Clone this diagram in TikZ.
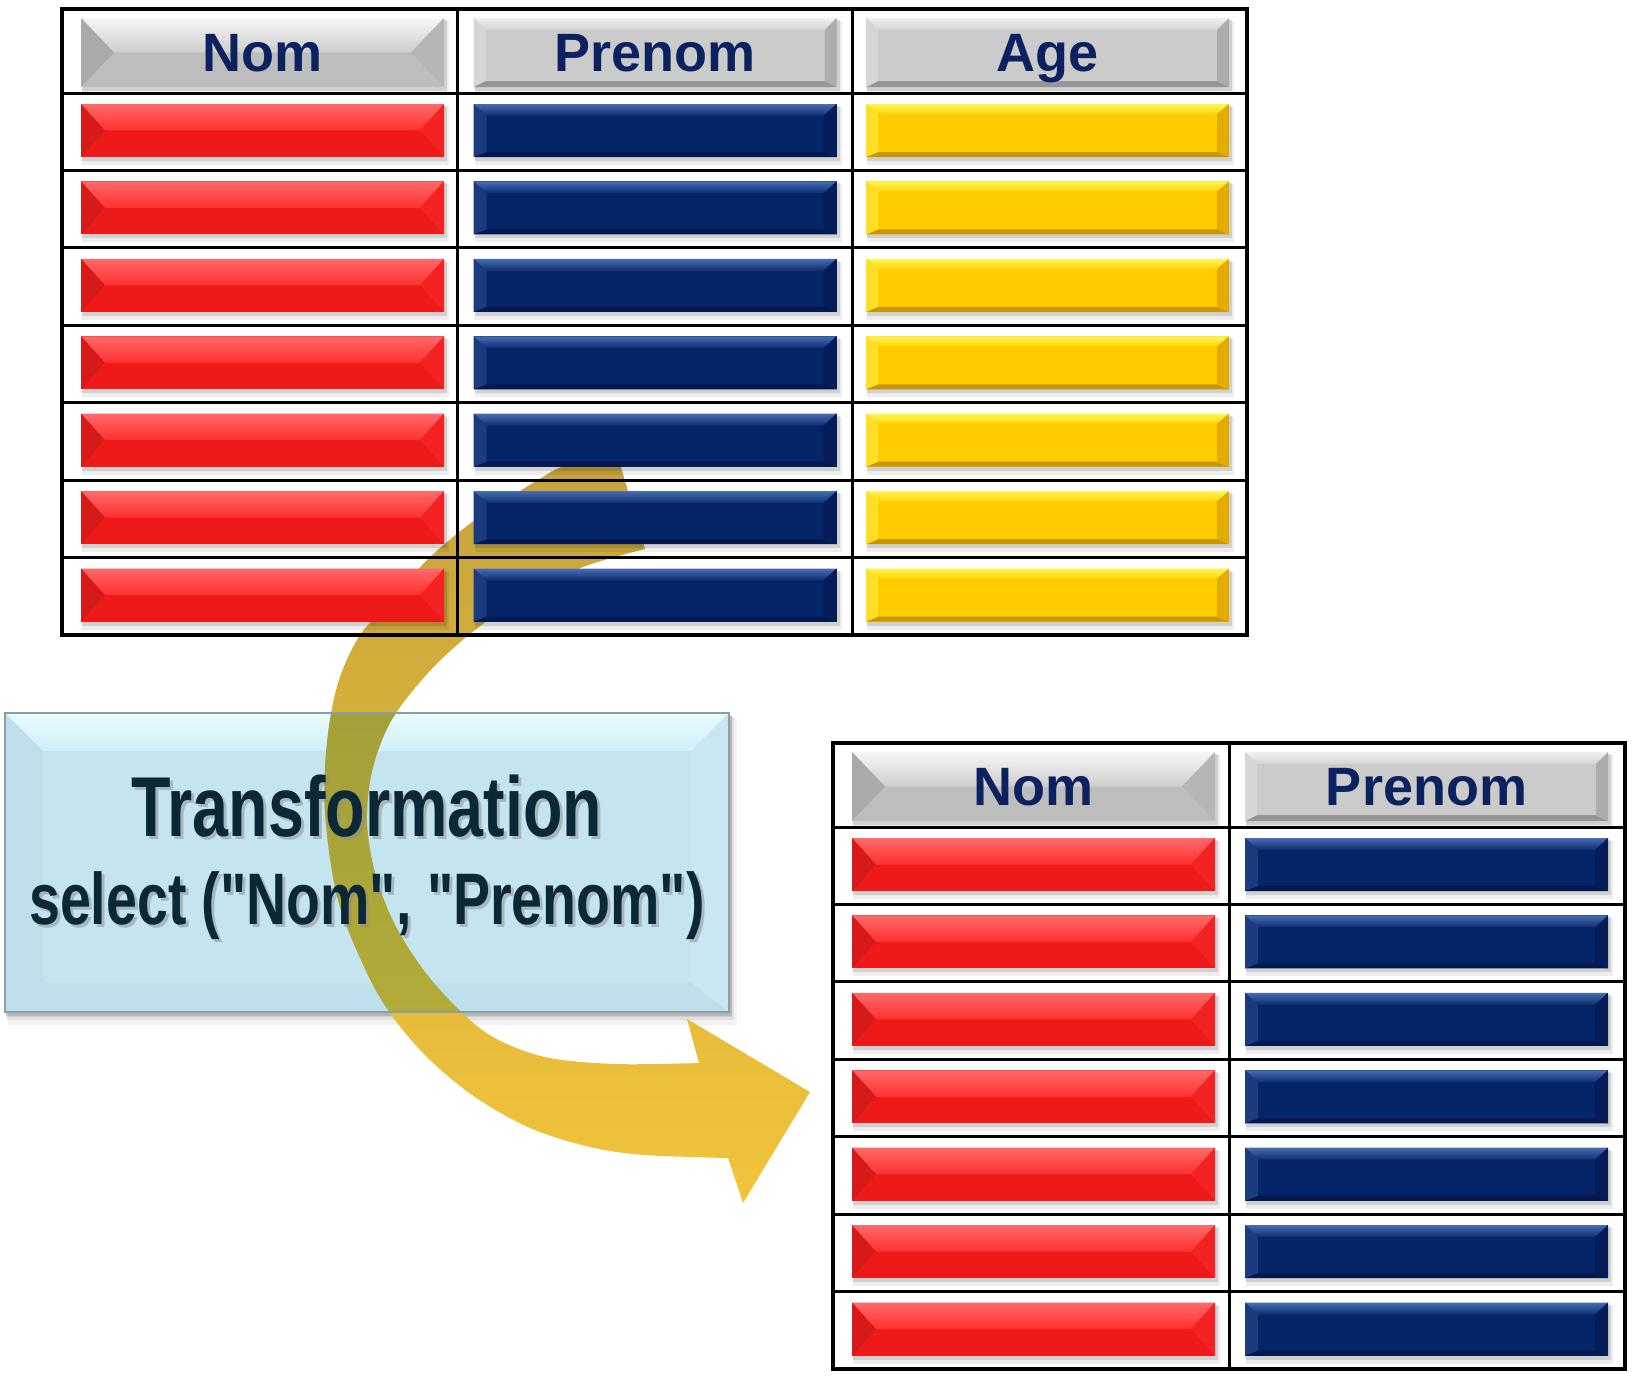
\documentclass[tikz,border=0pt]{standalone}
\usepackage{fontspec}
\setmainfont{Liberation Sans}
\newfontfamily\narrowfont[FakeStretch=0.76]{Liberation Sans}
\definecolor{hdrtext}{RGB}{12,34,96}
\definecolor{boxtext}{RGB}{10,40,54}
% red pyramid bevel
\definecolor{redTA}{RGB}{255,105,105}\definecolor{redTB}{RGB}{255,48,48}
\definecolor{redBo}{RGB}{238,26,26}\definecolor{redL}{RGB}{214,26,26}\definecolor{redR}{RGB}{244,34,34}
% grey pyramid
\definecolor{gpyTA}{RGB}{246,246,246}\definecolor{gpyTB}{RGB}{206,206,206}
\definecolor{gpyBo}{RGB}{189,189,189}\definecolor{gpyL}{RGB}{170,170,170}\definecolor{gpyR}{RGB}{182,182,182}
% grey frame
\definecolor{gfrM}{RGB}{203,203,203}\definecolor{gfrTA}{RGB}{240,240,240}\definecolor{gfrTB}{RGB}{212,212,212}
\definecolor{gfrBo}{RGB}{150,150,150}\definecolor{gfrL}{RGB}{214,214,214}\definecolor{gfrR}{RGB}{172,172,172}
% blue frame
\definecolor{bluM}{RGB}{6,36,104}\definecolor{bluTA}{RGB}{72,108,178}\definecolor{bluTB}{RGB}{12,44,112}
\definecolor{bluBo}{RGB}{3,24,78}\definecolor{bluL}{RGB}{28,58,128}\definecolor{bluR}{RGB}{4,28,88}
% yellow frame
\definecolor{yelM}{RGB}{255,204,0}\definecolor{yelTA}{RGB}{255,245,80}\definecolor{yelTB}{RGB}{255,214,10}
\definecolor{yelBo}{RGB}{200,150,0}\definecolor{yelL}{RGB}{255,222,40}\definecolor{yelR}{RGB}{228,172,0}
% box frame
\definecolor{bxM}{RGB}{196,228,239}\definecolor{bxTA}{RGB}{232,252,255}\definecolor{bxTB}{RGB}{206,239,249}
\definecolor{bxBo}{RGB}{190,224,236}\definecolor{bxL}{RGB}{190,223,235}\definecolor{bxR}{RGB}{200,231,242}
\definecolor{bxline}{RGB}{140,157,164}
% arrow
\definecolor{goldA}{RGB}{198,164,60}\definecolor{goldB}{RGB}{241,196,58}
\definecolor{oliveA}{RGB}{152,150,58}\definecolor{oliveB}{RGB}{186,178,56}

\newcommand\barshadow[4]{%
  \fill[black,opacity=0.07] ({#1+1},{#2+3}) rectangle ({#3+5},{#4+8});
  \fill[black,opacity=0.12] ({#1+1},{#2+2}) rectangle ({#3+3},{#4+4});}
\newcommand\pyrbar[6]{% x1 y1 x2 y2 d prefix
  \barshadow{#1}{#2}{#3}{#4}
  \fill[#6Bo] (#1,#2) rectangle (#3,#4);
  \shade[top color=#6TA,bottom color=#6TB] (#1,#2) -- (#3,#2) -- ({#3-#5},{(#2+#4)/2}) -- ({#1+#5},{(#2+#4)/2}) -- cycle;
  \fill[#6L] (#1,#2) -- ({#1+#5},{(#2+#4)/2}) -- (#1,#4) -- cycle;
  \fill[#6R] (#3,#2) -- ({#3-#5},{(#2+#4)/2}) -- (#3,#4) -- cycle;}
\newcommand\frbar[8]{% x1 y1 x2 y2 d t b prefix
  \barshadow{#1}{#2}{#3}{#4}
  \fill[#8M] (#1,#2) rectangle (#3,#4);
  \shade[top color=#8TA,bottom color=#8TB] (#1,#2) -- (#3,#2) -- ({#3-#5},{#2+#6}) -- ({#1+#5},{#2+#6}) -- cycle;
  \fill[#8Bo] (#1,#4) -- (#3,#4) -- ({#3-#5},{#4-#7}) -- ({#1+#5},{#4-#7}) -- cycle;
  \fill[#8L] (#1,#2) -- ({#1+#5},{#2+#6}) -- ({#1+#5},{#4-#7}) -- (#1,#4) -- cycle;
  \fill[#8R] (#3,#2) -- ({#3-#5},{#2+#6}) -- ({#3-#5},{#4-#7}) -- (#3,#4) -- cycle;}

\tikzset{
  hdr/.style={anchor=base,inner sep=0pt,text=hdrtext,font=\fontsize{54}{60}\selectfont\bfseries},
  bigtxt/.style={anchor=base,inner sep=0pt,font=\narrowfont\bfseries\fontsize{85}{90}\selectfont},
  subtxt/.style={anchor=base,inner sep=0pt,font=\narrowfont\bfseries\fontsize{73}{78}\selectfont},
  arrowshape/.style={insert path={
    plot[smooth,tension=0.55] coordinates {(618,457) (567,465) (533,483) (475,520) (427,560) (390,603) (360,635) (338,683) (327,743) (325,812) (338,900) (368,975) (395,1020) (430,1060) (475,1097) (530,1128) (590,1147) (645,1155) (728,1158)}
    -- (743,1203) -- (810,1092) -- (687,1019) --
    plot[smooth,tension=0.55] coordinates {(699,1063) (615,1064) (545,1057) (493,1037) (456,1007) (422,968) (394,923) (375,873) (367,822) (372,771) (391,721) (428,673) (470,634) (522,597) (583,567) (645,549)}
    -- cycle}}
}

\begin{document}
\begin{tikzpicture}[x=1pt,y=-1pt]
\useasboundingbox (0,0) rectangle (1632,1379);
\fill[white] (0,0) rectangle (1632,1379);

% ---------- transformation box ----------
\fill[black,opacity=0.05] (8,718) rectangle (737,1025);
\fill[black,opacity=0.08] (7,716) rectangle (732,1017);
\frbar{5}{713}{729}{1012}{38}{38}{30}{bx}

% ---------- curved arrow ----------
\shade[top color=goldA,bottom color=goldB,arrowshape];
\begin{scope}
  \clip (6,714) rectangle (728,1011);
  \shade[top color=oliveA,bottom color=oliveB,arrowshape];
\end{scope}
\draw[bxline,line width=1.8pt] (5,713) rectangle (729,1012);

% ---------- top table ----------
\foreach \c in {0,1,2}{
  \pgfmathsetmacro\xa{62+19+392.5*\c}
  \pgfmathsetmacro\xb{\xa+363}
  \ifnum\c=0
    \pyrbar{\xa}{18}{\xb}{87}{33}{gpy}
  \else
    \frbar{\xa}{18}{\xb}{87}{12}{12}{6}{gfr}
  \fi
  \foreach \r in {0,...,6}{
    \pgfmathsetmacro\ya{9+95+77.43*\r}
    \pgfmathsetmacro\yb{\ya+53}
    \ifnum\c=0 \pyrbar{\xa}{\ya}{\xb}{\yb}{24}{red}\fi
    \ifnum\c=1 \frbar{\xa}{\ya}{\xb}{\yb}{13}{12}{5}{blu}\fi
    \ifnum\c=2 \frbar{\xa}{\ya}{\xb}{\yb}{12}{10}{5}{yel}\fi
  }
}
\node[hdr] (ta1) at (262.5,71) {Nom};
\node[hdr] (ta2) at (655,71) {Prenom};
\node[hdr] (ta3) at (1047.5,71) {Age};
\foreach \k in {0,...,6}{
  \draw[line width=3pt] (62,{93+77.43*\k}) -- (1247,{93+77.43*\k});
}
\draw[line width=3pt] (457,9) -- (457,635) (852,9) -- (852,635);
\draw[line width=4pt] (62,9) rectangle (1247,635);

% ---------- bottom table ----------
\foreach \c in {0,1}{
  \pgfmathsetmacro\xa{833+19+393*\c}
  \pgfmathsetmacro\xb{\xa+363}
  \ifnum\c=0
    \pyrbar{\xa}{752}{\xb}{821}{33}{gpy}
  \else
    \frbar{\xa}{752}{\xb}{821}{12}{12}{6}{gfr}
  \fi
  \foreach \r in {0,...,6}{
    \pgfmathsetmacro\ya{743+95+77.43*\r}
    \pgfmathsetmacro\yb{\ya+53}
    \ifnum\c=0 \pyrbar{\xa}{\ya}{\xb}{\yb}{24}{red}\fi
    \ifnum\c=1 \frbar{\xa}{\ya}{\xb}{\yb}{13}{12}{5}{blu}\fi
  }
}
\node[hdr] (tb1) at (1033.5,805) {Nom};
\node[hdr] (tb2) at (1426.5,805) {Prenom};
\foreach \k in {0,...,6}{
  \draw[line width=3pt] (833,{827+77.43*\k}) -- (1625,{827+77.43*\k});
}
\draw[line width=3pt] (1229,743) -- (1229,1369);
\draw[line width=4pt] (833,743) rectangle (1625,1369);

% ---------- box text ----------
\node[bigtxt,text=black!45,opacity=0.5] (t1s) at (370,839) {Transformation};
\node[subtxt,text=black!45,opacity=0.5] (t2s) at (370,927) {select ("Nom", "Prenom")};
\node[bigtxt,text=boxtext] (t1) at (367,836) {Transformation};
\node[subtxt,text=boxtext] (t2) at (367,924) {select ("Nom", "Prenom")};
\end{tikzpicture}
\end{document}
